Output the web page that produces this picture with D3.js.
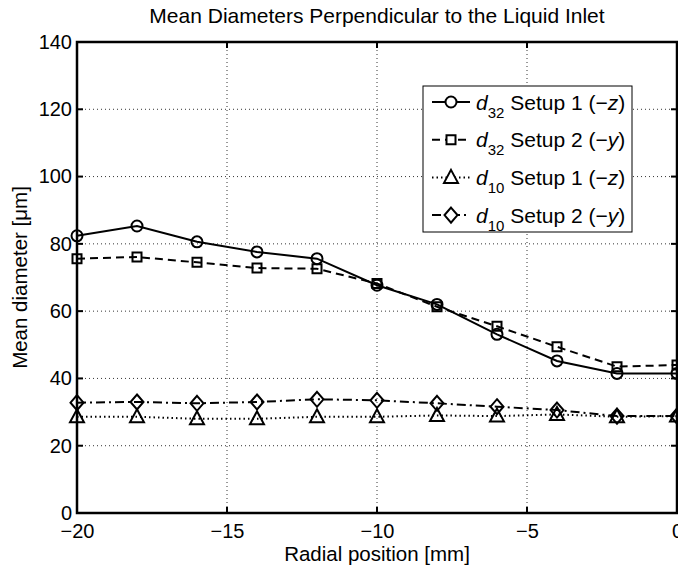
<!DOCTYPE html>
<html><head><meta charset="utf-8">
<script src="https://cdn.jsdelivr.net/npm/d3@7"></script>
<style>body{margin:0;background:#fff;} text{font-family:"Liberation Sans",Arial,sans-serif;}</style>
</head><body><svg id="c" width="678" height="568"></svg>
<script>
const positions = [-20,-18,-16,-14,-12,-10,-8,-6,-4,-2,0];
const d32Setup1 = [82.4,85.3,80.6,77.6,75.6,67.7,62.0,53.1,45.2,41.5,41.5];
const d32Setup2 = [75.6,76.1,74.5,72.8,72.6,68.2,61.3,55.5,49.4,43.5,44.0];
const d10Setup1 = [28.6,28.6,28.0,28.0,28.6,28.6,29.0,28.8,29.3,28.6,28.8];
const d10Setup2 = [32.8,33.0,32.6,33.0,33.8,33.5,32.6,31.6,30.6,28.8,28.8];
const xTicks = [-20,-15,-10,-5,0];
const yTicks = [0,20,40,60,80,100,120,140];
const titleText = "Mean Diameters Perpendicular to the Liquid Inlet";
const xLabel = "Radial position [mm]";
const yLabel = "Mean diameter [\u03bcm]";
const legendItems = [
  {sub:"32", setup:"Setup 1 (\u2212", ax:"z"},
  {sub:"32", setup:"Setup 2 (\u2212", ax:"y"},
  {sub:"10", setup:"Setup 1 (\u2212", ax:"z"},
  {sub:"10", setup:"Setup 2 (\u2212", ax:"y"}
];

const svg = d3.select("#c");
const L=77, R=677, T=42, B=513;
const x = d3.scaleLinear().domain([-20,0]).range([L,R]);
const y = d3.scaleLinear().domain([0,140]).range([B,T]);
const fmt = d => d<0 ? "\u2212"+Math.abs(d) : String(d);

// grid
const g = svg.append("g");
g.selectAll(".gx").data(xTicks.slice(1,-1)).join("line")
  .attr("x1",d=>x(d)).attr("x2",d=>x(d)).attr("y1",T).attr("y2",B)
  .attr("stroke","#000").attr("stroke-width",0.8).attr("stroke-dasharray","1,3");
g.selectAll(".gy").data(yTicks.slice(1,-1)).join("line")
  .attr("y1",d=>y(d)).attr("y2",d=>y(d)).attr("x1",L).attr("x2",R)
  .attr("stroke","#000").attr("stroke-width",0.8).attr("stroke-dasharray","1,3");

// axes via d3
const xAxis = d3.axisBottom(x).tickValues(xTicks).tickFormat(fmt).tickSize(0).tickPadding(11);
const yAxis = d3.axisLeft(y).tickValues(yTicks).tickFormat(fmt).tickSize(0).tickPadding(5);
const gx = svg.append("g").attr("transform",`translate(0,${B})`).call(xAxis);
const gy = svg.append("g").attr("transform",`translate(${L},0)`).call(yAxis);
[gx,gy].forEach(a=>{a.select(".domain").remove(); a.selectAll("text").attr("font-size",20).attr("fill","#000").style("font-family","Liberation Sans, Arial");});

// inward ticks on all sides
const tk = svg.append("g").attr("stroke","#000").attr("stroke-width",2);
xTicks.forEach(d=>{tk.append("line").attr("x1",x(d)).attr("x2",x(d)).attr("y1",B).attr("y2",B-6);
  tk.append("line").attr("x1",x(d)).attr("x2",x(d)).attr("y1",T).attr("y2",T+6);});
yTicks.forEach(d=>{tk.append("line").attr("y1",y(d)).attr("y2",y(d)).attr("x1",L).attr("x2",L+6);
  tk.append("line").attr("y1",y(d)).attr("y2",y(d)).attr("x1",R).attr("x2",R-6);});

// series
const series = [
  {vals:d32Setup1, dash:null, marker:"circle"},
  {vals:d32Setup2, dash:"8,5", marker:"square"},
  {vals:d10Setup1, dash:"1.5,3", marker:"triangle"},
  {vals:d10Setup2, dash:"9,4,2,4", marker:"diamond"}
];
const line = d3.line().x((d,i)=>x(positions[i])).y(d=>y(d));
function markerPath(m){
  if(m==="circle") return d3.symbol(d3.symbolCircle,95)();
  if(m==="square") return "M-4.5,-4.5H4.5V4.5H-4.5Z";
  if(m==="triangle") return "M0,-7.5L7,5.5H-7Z";
  return "M0,-7.5L6.5,0L0,7.5L-6.5,0Z";
}
const plot = svg.append("g");
series.forEach(s=>{
  plot.append("path").datum(s.vals).attr("d",line).attr("fill","none")
    .attr("stroke","#000").attr("stroke-width",2).attr("stroke-dasharray",s.dash);
  plot.selectAll(null).data(s.vals).join("path")
    .attr("transform",(d,i)=>`translate(${x(positions[i])},${y(d)})`)
    .attr("d",markerPath(s.marker)).attr("fill","none").attr("stroke","#000").attr("stroke-width",2);
});

// frame
svg.append("rect").attr("x",L).attr("y",T).attr("width",R-L).attr("height",B-T)
  .attr("fill","none").attr("stroke","#000").attr("stroke-width",2.5);

// legend
const lg = svg.append("g");
lg.append("rect").attr("x",423).attr("y",86).attr("width",209).attr("height",146)
  .attr("fill","#fff").attr("stroke","#000").attr("stroke-width",1);
legendItems.forEach((it,i)=>{
  const cy = 102 + i*37.7;
  const s = series[i];
  lg.append("line").attr("x1",432).attr("x2",470).attr("y1",cy).attr("y2",cy)
    .attr("stroke","#000").attr("stroke-width",2).attr("stroke-dasharray",s.dash);
  lg.append("path").attr("transform",`translate(451,${cy})`).attr("d",markerPath(s.marker))
    .attr("fill", "#fff").attr("stroke","#000").attr("stroke-width",2);
  const t = lg.append("text").attr("x",476).attr("y",cy+7.5).attr("font-size",21).attr("fill","#000");
  t.append("tspan").attr("font-style","italic").text("d");
  t.append("tspan").attr("font-size",15).attr("dy",8).text(it.sub);
  t.append("tspan").attr("dy",-8).text(" "+it.setup);
  t.append("tspan").attr("font-style","italic").text(it.ax);
  t.append("tspan").text(")");
});

// labels
svg.append("text").attr("x",(L+R)/2).attr("y",23).attr("text-anchor","middle").attr("font-size",21).text(titleText);
svg.append("text").attr("x",(L+R)/2).attr("y",561).attr("text-anchor","middle").attr("font-size",20.5).text(xLabel);
svg.append("text").attr("transform",`translate(27,${(T+B)/2}) rotate(-90)`).attr("text-anchor","middle").attr("font-size",20.5).text(yLabel);
</script></body></html>
